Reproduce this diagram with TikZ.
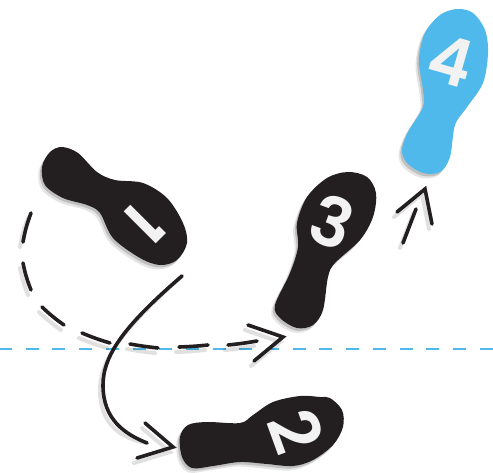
\documentclass[tikz,border=0pt]{standalone}
\usepackage{fontspec}
\setmainfont{Poppins}
\newfontfamily\numfont{Poppins SemiBold}
\usetikzlibrary{calc}
\definecolor{soleblack}{HTML}{231F20}
\definecolor{soleblue}{HTML}{4FB9EB}
\definecolor{guideblue}{HTML}{4FB9EB}
\tikzset{
  stroke/.style={draw=soleblack,line width=3.6pt,line cap=round,line join=miter},
  numeral/.style={text=white!95!black,font=\fontsize{#1}{#1}\selectfont\numfont,inner sep=0pt},
  heavynumeral/.style={text=white!95!black,font=\fontsize{#1}{#1}\selectfont\bfseries,inner sep=0pt},
}
\newcommand{\sole}[2]{%
  \fill[black,opacity=.10,xshift=-3.5pt,yshift=-4.5pt] plot[smooth cycle,tension=.55] coordinates {#2};
  \fill[black,opacity=.16,xshift=-1.8pt,yshift=-2.5pt] plot[smooth cycle,tension=.55] coordinates {#2};
  \fill[#1] plot[smooth cycle,tension=.55] coordinates {#2};
}
\newcommand{\inkline}[1]{%
  \draw[stroke,draw=black,opacity=.12,line width=4pt,xshift=-3pt,yshift=-5pt] #1;
  \draw[stroke] #1;
}
\begin{document}
\begin{tikzpicture}[x=1pt,y=-1pt]
\useasboundingbox (0,0) rectangle (493,472);
% guide line
\draw[draw=guideblue,line width=1.2pt,dash pattern=on 13pt off 13.7pt] (-1,349) -- (493,349);
% soles
\sole{soleblack}{(62,147)(78,153)(97,172)(115,180)(143,183)(167,198)(183,223)(187,243)(177,260)(160,265)(140,258)(113,238)(100,213)(87,205)(63,198)(45,185)(42,167)(50,152)}
\sole{soleblack}{(348,172)(367,177)(376,193)(373,217)(360,240)(335,263)(328,277)(323,310)(313,325)(297,328)(280,318)(275,305)(290,273)(298,247)(297,223)(307,197)(327,178)}
\sole{soleblack}{(330,398)(342,410)(343,427)(333,445)(313,460)(293,466)(267,464)(240,462)(213,466)(192,468)(182,457)(180,437)(188,425)(207,422)(240,423)(253,415)(273,402)(300,396)(320,397)}
\sole{soleblue}{(457,9)(473,13)(485,30)(488,53)(483,83)(467,107)(455,125)(450,157)(440,172)(423,173)(407,163)(402,150)(408,132)(423,107)(423,90)(419,60)(425,33)(440,15)}
% numerals
\node[heavynumeral=62,rotate=-135,xscale=.85] (n1) at (144,224) {1};
\node[numeral=68,rotate=-70] (n2) at (296,431) {2};
\node[numeral=68,rotate=-20] (n3) at (332,222) {3};
\node[numeral=66,rotate=-16] (n4) at (451,61) {4};
% solid route to 2
\coordinate (a1) at (182,276);
\coordinate (a2) at (147,443);
\inkline{(a1) .. controls (125,325) and (103,355) .. (103,385) .. controls (103,420) and (125,434) .. (a2)}
\inkline{(145,423) -- (173,447) -- (137,458)}
% dashed route to 3
\inkline{(31,213) to[bend right=5] (23,242)}
\inkline{(23,263) to[bend right=5] (31,290)}
\inkline{(42,307) to[bend right=4] (64,325)}
\inkline{(82,333) to[bend right=3] (110,343)}
\inkline{(130,344) to[bend right=2] (158,348)}
\inkline{(179,347) to[bend right=2] (208,345)}
\inkline{(228,345) to[bend right=2] (257,341)}
\inkline{(248,325) -- (283,337) -- (254,361)}
% arrow to 4
\inkline{(403,243) -- (416,209)}
\inkline{(397,212) -- (425,189) -- (432,224)}
\end{tikzpicture}
\end{document}
